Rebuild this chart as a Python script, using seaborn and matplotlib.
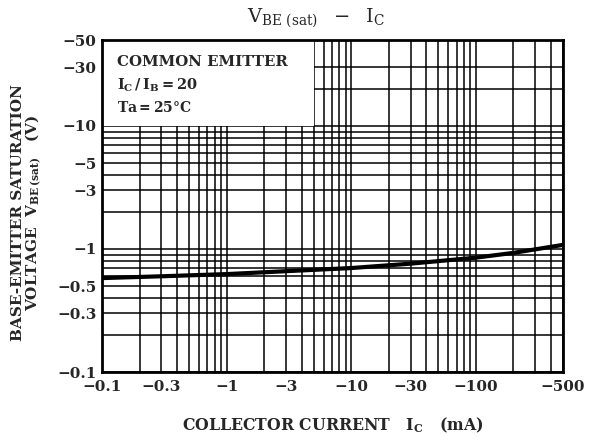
import numpy as np
import pandas as pd
import matplotlib
matplotlib.use('Agg')
from matplotlib import pyplot as plt
from matplotlib import ticker
from matplotlib.patches import Rectangle
import seaborn as sns

# collector current (mA, magnitude) and V_BE(sat) (V, magnitude)
ic_ma = [0.1, 0.3, 1, 3, 10, 30, 100, 200, 500]
vbe_sat = [0.58, 0.60, 0.625, 0.66, 0.70, 0.76, 0.85, 0.93, 1.08]

x_major = [0.1, 0.3, 1, 3, 10, 30, 100, 500]
x_minor = [0.2, 0.4, 0.5, 0.6, 0.7, 0.8, 0.9, 2, 4, 5, 6, 7, 8, 9,
           20, 40, 50, 60, 70, 80, 90, 200, 300, 400]
y_major = [0.1, 0.3, 0.5, 1, 3, 5, 10, 30, 50]
y_minor = [0.2, 0.4, 0.6, 0.7, 0.8, 0.9, 2, 4, 6, 7, 8, 9, 20]

sns.set_theme(style='white')
plt.rcParams['font.family'] = ['DejaVu Serif']
plt.rcParams['mathtext.fontset'] = 'dejavuserif'

df = pd.DataFrame({'ic': ic_ma, 'vbe': vbe_sat})

fig = plt.figure(figsize=(5.95, 4.41), dpi=100)
ax = fig.add_axes([102/595, 1-372/441, 461/595, 332/441])

ax.set_xscale('log')
ax.set_yscale('log')
ax.set_xlim(0.1, 500)
ax.set_ylim(0.1, 50)

ax.xaxis.set_major_locator(ticker.FixedLocator(x_major))
ax.xaxis.set_minor_locator(ticker.FixedLocator(x_minor))
ax.yaxis.set_major_locator(ticker.FixedLocator(y_major))
ax.yaxis.set_minor_locator(ticker.FixedLocator(y_minor))
neg = ticker.FuncFormatter(lambda v, p: '\u2212' + f'{v:g}')
ax.xaxis.set_major_formatter(neg)
ax.yaxis.set_major_formatter(neg)
ax.xaxis.set_minor_formatter(ticker.NullFormatter())
ax.yaxis.set_minor_formatter(ticker.NullFormatter())

ax.grid(True, which='both', color='black', linewidth=1.1)
ax.set_axisbelow(True)
ax.tick_params(which='both', length=0, labelsize=11)
ax.tick_params(axis='x', pad=6)
ax.tick_params(axis='y', pad=4)
for lab in ax.get_xticklabels() + ax.get_yticklabels():
    lab.set_fontweight('bold')
for s in ax.spines.values():
    s.set_color('black')
    s.set_linewidth(2)

sns.lineplot(data=df, x='ic', y='vbe', color='black', linewidth=3, ax=ax, zorder=4)

# annotation box covering upper-left grid
ax.add_patch(Rectangle((0.1, 10), 5 - 0.1, 40, facecolor='white', edgecolor='none', zorder=2))
fig.text(117/595, 1-62/441, 'COMMON EMITTER', fontsize=10.8, fontweight='bold', va='center')
fig.text(117/595, 1-85/441, r'$\mathbf{I_C\,/\,I_B = 20}$', fontsize=10.5, va='center')
fig.text(117/595, 1-108/441, r'$\mathbf{Ta = 25°C}$', fontsize=10, va='center')

ax.set_xlabel('')
ax.set_ylabel('')
fig.text(316/595, 1-18/441, r'$\mathrm{V_{BE\ (sat)}}\ \ -\ \ \mathrm{I_C}$',
         fontsize=14, ha='center', va='center')
fig.text(333/595, 1-425/441, r'COLLECTOR CURRENT   $\mathbf{I_C}$   (mA)',
         fontsize=11.3, fontweight='bold', ha='center', va='center')
fig.text(27/595, 1-213/441,
         'BASE-EMITTER SATURATION\n' + r'VOLTAGE  $\mathbf{V_{BE\,(sat)}}$   (V)',
         fontsize=11, fontweight='bold', ha='center', va='center', rotation=90,
         linespacing=0.85, multialignment='center')

fig.savefig('out.png', dpi=100)
